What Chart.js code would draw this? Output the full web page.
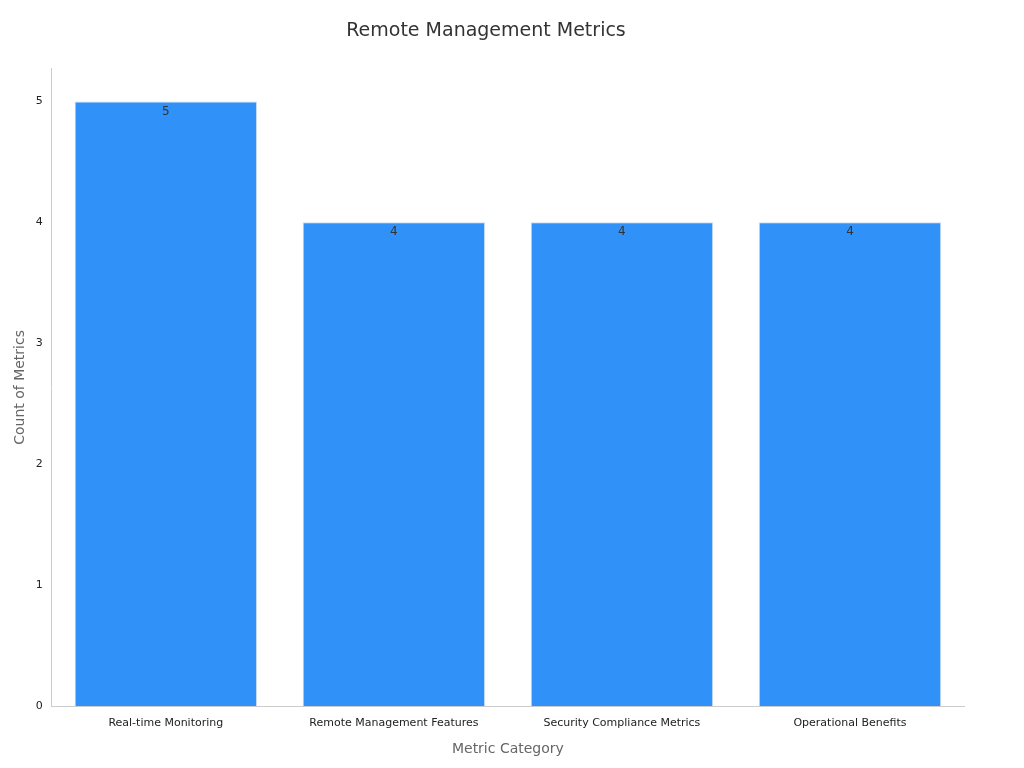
<!DOCTYPE html>
<html><head><meta charset="utf-8">
<script src="https://cdn.jsdelivr.net/npm/chart.js@4"></script>
<style>body{margin:0;background:#fff}#w{width:1024px;height:768px}</style>
</head><body><div id="w"><canvas id="c"></canvas></div>
<script>
const categories=["Real-time Monitoring","Remote Management Features","Security Compliance Metrics","Operational Benefits"];
const counts=[5,4,4,4];
const yTicks=[0,1,2,3,4,5];
const labelPlugin={id:'lbl',afterDatasetsDraw(ch){const c=ch.ctx;const m=ch.getDatasetMeta(0);c.save();c.font='12px "DejaVu Sans"';c.fillStyle='#333';c.textAlign='center';c.textBaseline='top';m.data.forEach((b,i)=>c.fillText(String(counts[i]),b.x,b.y+4));c.restore();}};
new Chart(document.getElementById('c'),{type:'bar',
data:{labels:categories,datasets:[{data:counts,backgroundColor:'#3092f8',borderColor:'#c8dcf5',borderWidth:1,barPercentage:0.8,categoryPercentage:1}]},
options:{responsive:true,maintainAspectRatio:false,animation:false,
layout:{padding:{left:8,right:60,top:10,bottom:6}},
plugins:{legend:{display:false},tooltip:{enabled:false},title:{display:true,text:'Remote Management Metrics',color:'#333',font:{family:'DejaVu Sans',size:19,weight:'normal'},padding:{top:10,bottom:26}}},
scales:{
x:{grid:{display:false,drawTicks:true},border:{color:'#ccc'},ticks:{color:'#222',font:{family:'DejaVu Sans',size:11}},title:{display:true,text:'Metric Category',color:'#666',font:{family:'DejaVu Sans',size:14},padding:{top:8}}},
y:{min:0,max:5.27,afterBuildTicks(a){a.ticks=yTicks.map(v=>({value:v}));},grid:{display:false,drawTicks:true,tickLength:6,tickColor:'#666'},border:{color:'#ccc'},ticks:{color:'#222',font:{family:'DejaVu Sans',size:11}},title:{display:true,text:'Count of Metrics',color:'#666',font:{family:'DejaVu Sans',size:14}}}
}},plugins:[labelPlugin]});
</script></body></html>
